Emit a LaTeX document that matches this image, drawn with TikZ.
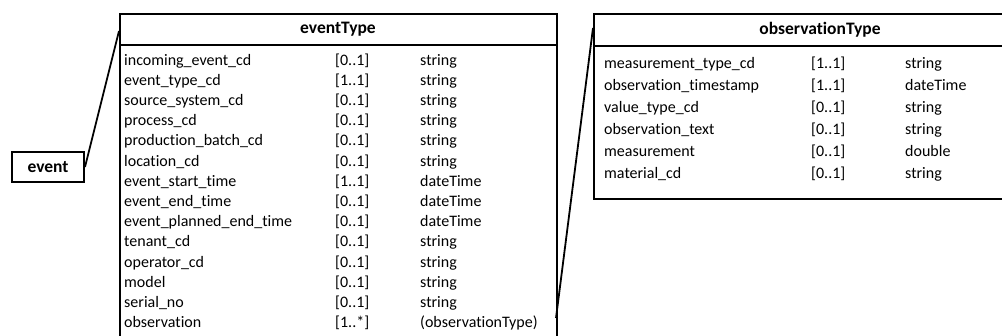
\documentclass[tikz,border=0pt]{standalone}
\usepackage{fontspec}
\setmainfont{Carlito}[Ligatures=NoCommon]
\begin{document}
\begin{tikzpicture}[x=1pt,y=-1pt,
  boxline/.style={line width=2pt},
  titletext/.style={font=\fontsize{17.5}{20}\selectfont\bfseries, inner sep=0pt},
  rowtext/.style={font=\fontsize{16}{19}\selectfont, inner sep=0pt, anchor=base west}]
\clip (0,0) rectangle (1002,335);
% event box
\node[draw, boxline, minimum width=72pt, minimum height=30pt, inner sep=0pt,
      font=\fontsize{17.5}{20}\selectfont\bfseries] (ev) at (48,167) {event};
% eventType box
\node[draw, boxline, minimum width=437pt, minimum height=340pt, anchor=north west, inner sep=0pt] (et) at (119,13) {};
\coordinate (etHL) at (119,45);
\coordinate (etHR) at (556,45);
\draw[boxline] (etHL) -- (etHR);
\node[titletext] (etT) at (338,29) {eventType};
% observationType box
\node[draw, boxline, minimum width=460pt, minimum height=185pt, anchor=north west, inner sep=0pt] (ob) at (593,13) {};
\coordinate (obHL) at (593,46);
\coordinate (obHR) at (1060,46);
\draw[boxline] (obHL) -- (obHR);
\node[titletext] (obT) at (820,30) {observationType};
% connectors
\coordinate (etIn) at (119,31);
\coordinate (etOut) at (556,318);
\coordinate (obIn) at (593,28);
\draw[line width=1.8pt] (ev.east) -- (etIn);
\draw[line width=1.8pt] (etOut) -- (obIn);
% eventType rows
\foreach \n/\m/\t [count=\i from 0] in {
  incoming\_event\_cd/{[0..1]}/string,
  event\_type\_cd/{[1..1]}/string,
  source\_system\_cd/{[0..1]}/string,
  process\_cd/{[0..1]}/string,
  production\_batch\_cd/{[0..1]}/string,
  location\_cd/{[0..1]}/string,
  event\_start\_time/{[1..1]}/dateTime,
  event\_end\_time/{[0..1]}/dateTime,
  event\_planned\_end\_time/{[0..1]}/dateTime,
  tenant\_cd/{[0..1]}/string,
  operator\_cd/{[0..1]}/string,
  model/{[0..1]}/string,
  serial\_no/{[0..1]}/string,
  observation/{[1..*]}/(observationType)} {
  \node[rowtext] (etn\i) at (124,{65+20.2*\i}) {\n};
  \node[rowtext] (etm\i) at (335,{65+20.2*\i}) {\m};
  \node[rowtext] (ett\i) at (420,{65+20.2*\i}) {\t};
}
% observationType rows
\foreach \n/\m/\t [count=\i from 0] in {
  measurement\_type\_cd/{[1..1]}/string,
  observation\_timestamp/{[1..1]}/dateTime,
  value\_type\_cd/{[0..1]}/string,
  observation\_text/{[0..1]}/string,
  measurement/{[0..1]}/double,
  material\_cd/{[0..1]}/string} {
  \node[rowtext] (obn\i) at (604,{68+22*\i}) {\n};
  \node[rowtext] (obm\i) at (811,{68+22*\i}) {\m};
  \node[rowtext] (obt\i) at (905,{68+22*\i}) {\t};
}
\end{tikzpicture}
\end{document}
